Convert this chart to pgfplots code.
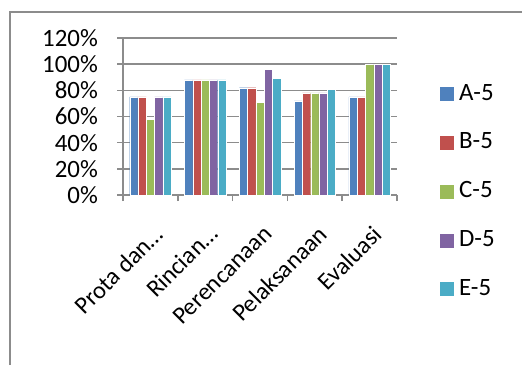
\documentclass[border=0pt]{standalone}
\usepackage{fontspec}
\setmainfont{Carlito}
\usepackage{pgfplots}
\pgfplotsset{compat=1.18}
\definecolor{cA}{HTML}{4F81BD}
\definecolor{cB}{HTML}{C0504D}
\definecolor{cC}{HTML}{9BBB59}
\definecolor{cD}{HTML}{8064A2}
\definecolor{cE}{HTML}{4BACC6}
\definecolor{gridgray}{HTML}{8C8C8C}
\begin{document}
\fontsize{25}{30}\selectfont
\begin{tikzpicture}[x=1bp,y=1bp]
\useasboundingbox (0,0) rectangle (522,365);
\draw[gridgray, line width=1.5bp] (10,0) -- (10,353) -- (522,353);
\begin{axis}[
  at={(123bp,170bp)}, anchor=south west,
  scale only axis, width=274bp, height=157bp,
  xmin=-0.5, xmax=4.5, ymin=0, ymax=120,
  ybar=0pt, bar width=8.3bp,
  axis x line*=bottom, axis y line*=left,
  axis line style={gridgray, line width=1.5bp},
  x axis line style={-}, y axis line style={-},
  xtick={-0.5,0.5,1.5,2.5,3.5,4.5},
  x tick label as interval,
  xticklabels={Prota dan…, Rincian…, Perencanaan, Pelaksanaan, Evaluasi, {}},
  xticklabel style={xshift=2bp, yshift=-20bp, rotate=45, anchor=north east, inner sep=2bp, font=\fontsize{24.5}{30}\selectfont},
  ytick={0,20,...,120},
  yticklabel={\pgfmathprintnumber{\tick}\%},
  yticklabel style={font=\fontsize{25}{30}\selectfont, inner sep=1bp, xshift=-18bp},
  /pgf/number format/assume math mode=true,
  ymajorgrids, grid style={gridgray, line width=1.5bp},
  tick style={gridgray, line width=1.5bp},
  tick align=outside, major tick length=6bp,
  legend style={draw=none, fill=none, at={(1.152,0.72)}, anchor=north west,
    font=\fontsize{25}{30}\selectfont, row sep=25bp, inner sep=0pt,
    nodes={inner xsep=5bp}},
  legend cell align=left,
  legend image code/.code={\fill[#1] (0bp,-7.5bp) rectangle (15bp,7.5bp);},
  every axis plot/.append style={draw=white, line width=0.3bp},
]
\addplot[fill=cA] coordinates {(0,75) (1,88) (2,82) (3,72) (4,75)};
\addplot[fill=cB] coordinates {(0,75) (1,88) (2,82) (3,78) (4,75)};
\addplot[fill=cC] coordinates {(0,58) (1,88) (2,71) (3,78) (4,100)};
\addplot[fill=cD] coordinates {(0,75) (1,88) (2,96) (3,78) (4,100)};
\addplot[fill=cE] coordinates {(0,75) (1,88) (2,89) (3,81) (4,100)};
\legend{A-5, B-5, C-5, D-5, E-5}
\end{axis}
\end{tikzpicture}
\end{document}
